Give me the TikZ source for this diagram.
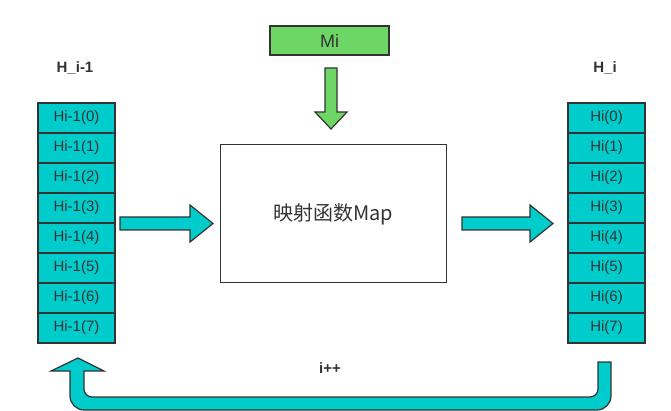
\documentclass[tikz,border=0pt]{standalone}
\usepackage{fontspec}
\setmainfont{Liberation Sans}
\newfontfamily\cjk{Noto Sans CJK SC}
\definecolor{cy}{RGB}{0,204,204}
\definecolor{gr}{RGB}{110,214,100}
\definecolor{ln}{RGB}{51,51,51}
\begin{document}
\begin{tikzpicture}[x=1pt,y=-1pt,
  cell/.style={draw=ln,line width=1.2pt,fill=cy,minimum width=77pt,minimum height=30pt,inner sep=0pt,font=\fontsize{15}{17}\selectfont,text=ln},
  fat/.style={draw=ln,line width=1.2pt,fill=cy,line join=miter}]
\useasboundingbox (0,0) rectangle (671,411);
\foreach \i in {0,...,7}{
  \node[cell] (L\i) at (76.5,{118+30*\i}) {Hi-1(\i)};
  \node[cell] (R\i) at (606.5,{118+30*\i}) {Hi(\i)};
}
\node[font=\bfseries\fontsize{15}{17}\selectfont,text=ln] (hl) at (75,68) {H\_i-1};
\node[font=\bfseries\fontsize{15}{17}\selectfont,text=ln] (hr) at (605,68) {H\_i};
\node[draw=ln,line width=1.2pt,fill=gr,minimum width=119pt,minimum height=29pt,inner sep=0pt,font=\fontsize{18}{20}\selectfont,text=ln] (mi) at (329.5,40.5) {Mi};
\node[draw=ln,line width=1pt,minimum width=226pt,minimum height=138pt,font=\cjk\fontsize{20}{22}\selectfont,text=ln] (map) at (333,214) {映射函数Map};
\draw[fat,fill=gr] (325,68) -- (337,68) -- (337,112) -- (347,112) -- (331,129) -- (315,112) -- (325,112) -- cycle;
\draw[fat] (120,217) -- (190,217) -- (190,205) -- (213,223.5) -- (190,242) -- (190,230) -- (120,230) -- cycle;
\draw[fat] (462,217) -- (530,217) -- (530,205) -- (553,223.5) -- (530,242) -- (530,230) -- (462,230) -- cycle;
\draw[fat] (598,362) -- (611,362) [rounded corners=14pt] -- (611,410) -- (70,410) [sharp corners] -- (70,371) -- (51,371) -- (78,358) -- (104,371) -- (84,371) [rounded corners=8pt] -- (84,397) -- (598,397) [sharp corners] -- cycle;
\node[font=\bfseries\fontsize{15}{17}\selectfont,text=ln] (inc) at (330,368) {i++};
\end{tikzpicture}
\end{document}
